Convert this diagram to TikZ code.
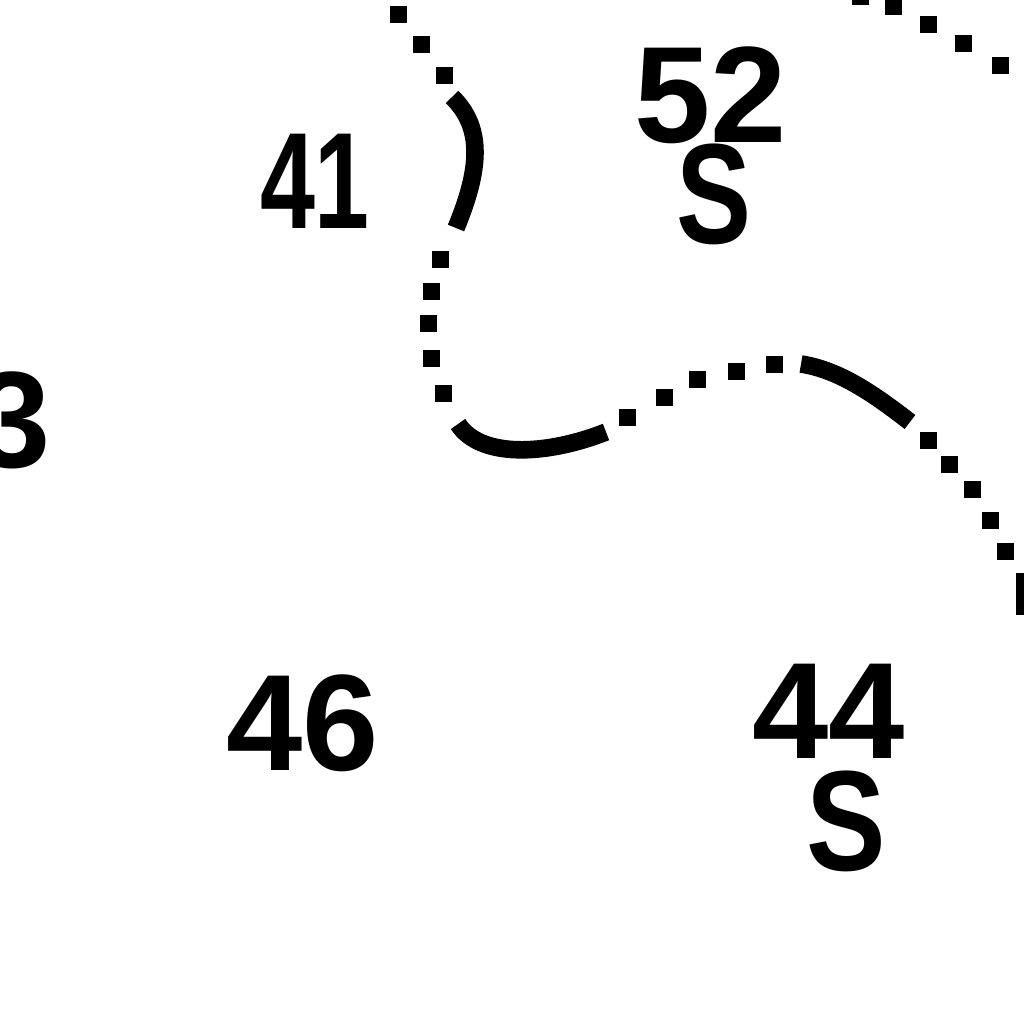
\documentclass[tikz,border=0pt]{standalone}
\usepackage{fontspec}
\setmainfont{Liberation Sans}
\tikzset{
    depth/.style={inner sep=0pt,font=\fontsize{39}{39}\selectfont\bfseries},
    seabed/.style={depth,xscale=0.82,yscale=1.04},
    contour/.style={line width=5pt}
}
\begin{document}
\begin{tikzpicture}[x=0.01cm,y=-0.01cm]
        \useasboundingbox (0,0) rectangle (1024,1024);
        % soundings
        \node[depth,xscale=0.72] (d41) at (315,181) {41};
        \node[depth] (d52) at (711,95) {52};
        \node[seabed] (s52) at (714,194) {S};
        \node[depth,anchor=east] (d3) at (51,420) {3};
        \node[depth] (d46) at (303,723) {46};
        \node[depth] (d44) at (829,711) {44};
        \node[seabed,xscale=1.06] (s44) at (846,821) {S};
        % solid parts of the contour
        \draw[contour] (452,97) .. controls (484,128) and (480,170) .. (456,228);
        \draw[contour] (458,424) .. controls (480,458) and (545,456) .. (606,432);
        \draw[contour] (801,364) .. controls (840,370) and (875,395) .. (910,422);
        % dots of the contour
        \foreach \x/\y in {398/14,421/44,444/75,440/259,431/291,428/323,431/358,443/393,
            627/417,664/397,697/379,736/371,774/364,928/440,949/464,972/489,990/520,
            1005/551,893/6,928/24,963/43,1000/65,860/-4}
            \fill (\x-8.5,\y-8.5) rectangle (\x+8.5,\y+8.5);
        \fill (1016,573) rectangle (1024,615);
    \end{tikzpicture}
\end{document}
